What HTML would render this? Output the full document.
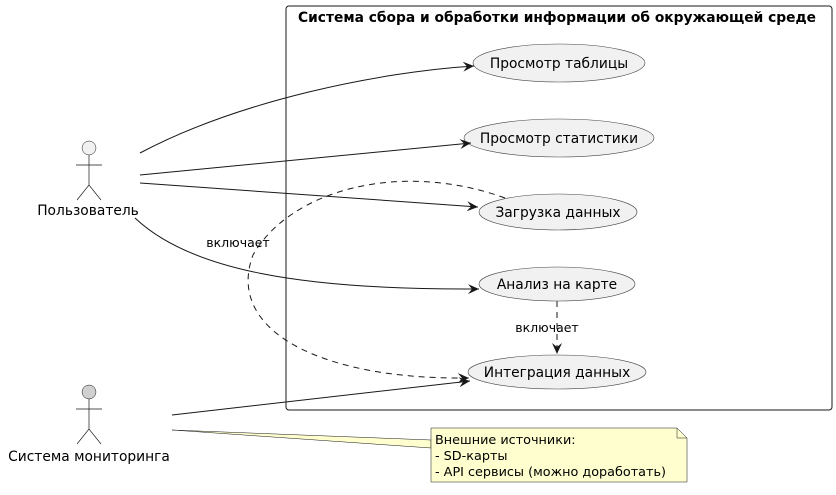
<!DOCTYPE html>
<html><head><meta charset="utf-8"><style>
html,body{margin:0;padding:0;background:#fff;}
svg text{font-family:"DejaVu Sans","Liberation Sans",sans-serif;}
</style></head><body>
<svg width="836" height="490" viewBox="0 0 836 490" xmlns="http://www.w3.org/2000/svg">
<defs>
<marker id="a" viewBox="0 0 12 10" refX="11" refY="5" markerWidth="12" markerHeight="10" markerUnits="userSpaceOnUse" orient="auto">
<path d="M0,0 L11,5 L0,10 L4,5 Z" fill="#181818"/>
</marker>
</defs>
<rect x="286" y="6" width="546" height="404" rx="3" fill="none" stroke="#181818" stroke-width="1"/>
<text x="557" y="22" font-size="13.8" font-weight="bold" text-anchor="middle" fill="#000">Система сбора и обработки информации об окружающей среде</text>

<g fill="#f1f1f1" stroke="#444" stroke-width="0.6">
<ellipse cx="559" cy="63" rx="86" ry="19"/>
<ellipse cx="559" cy="138" rx="95" ry="19"/>
<ellipse cx="558" cy="212" rx="79" ry="18"/>
<ellipse cx="557" cy="284" rx="78" ry="17"/>
<ellipse cx="557" cy="372" rx="89" ry="17"/>
</g>
<g font-size="13.8" text-anchor="middle" fill="#000">
<text x="559" y="68">Просмотр таблицы</text>
<text x="559" y="143">Просмотр статистики</text>
<text x="558" y="217">Загрузка данных</text>
<text x="557" y="289">Анализ на карте</text>
<text x="557" y="377">Интеграция данных</text>
</g>

<g fill="none" stroke="#181818" stroke-width="1">
<path d="M140,153 C240,100 380,72 474,66" marker-end="url(#a)"/>
<path d="M140,175 L471,143" marker-end="url(#a)"/>
<path d="M140,183 L478,207" marker-end="url(#a)"/>
<path d="M135,218 C190,270 300,290 479,289" marker-end="url(#a)"/>
<path d="M172,415 L470,381" marker-end="url(#a)"/>
<path d="M505,198 C400,160 290,190 253,255 C225,330 320,380 469,378" stroke-dasharray="6,5" marker-end="url(#a)"/>
<path d="M557,301 L557,354" stroke-dasharray="6,5" marker-end="url(#a)"/>
</g>
<text x="238" y="247" font-size="12.5" text-anchor="middle" fill="#000">включает</text>
<text x="547" y="332" font-size="12.5" text-anchor="middle" fill="#000">включает</text>

<g stroke="#181818" stroke-width="0.5">
<circle cx="89" cy="148" r="7" fill="#f1f1f1"/>
<circle cx="89" cy="392" r="7" fill="#d0d0d0"/>
</g>
<g stroke="#181818" stroke-width="0.7" fill="none">
<path d="M89,155 V185 M76,165 H102 M77,200 L89,185 L101,200"/>
<path d="M89,399 V429 M76,409 H102 M77,444 L89,429 L101,444"/>
</g>
<text x="88" y="215" font-size="13.8" text-anchor="middle" fill="#000">Пользователь</text>
<text x="89" y="461" font-size="13.8" text-anchor="middle" fill="#000">Система мониторинга</text>

<polygon points="172,430 431,440 431,448" fill="#fefece" stroke="#181818" stroke-width="0.5"/>
<path d="M431,428 H677 L687,438 V482 H431 Z" fill="#fefece" stroke="#181818" stroke-width="0.5"/>
<path d="M677,428 V438 H687" fill="none" stroke="#181818" stroke-width="0.5"/>
<g font-size="12.8" fill="#000">
<text x="435" y="444">Внешние источники:</text>
<text x="435" y="460">- SD-карты</text>
<text x="435" y="476">- API сервисы (можно доработать)</text>
</g>
</svg>
</body></html>
